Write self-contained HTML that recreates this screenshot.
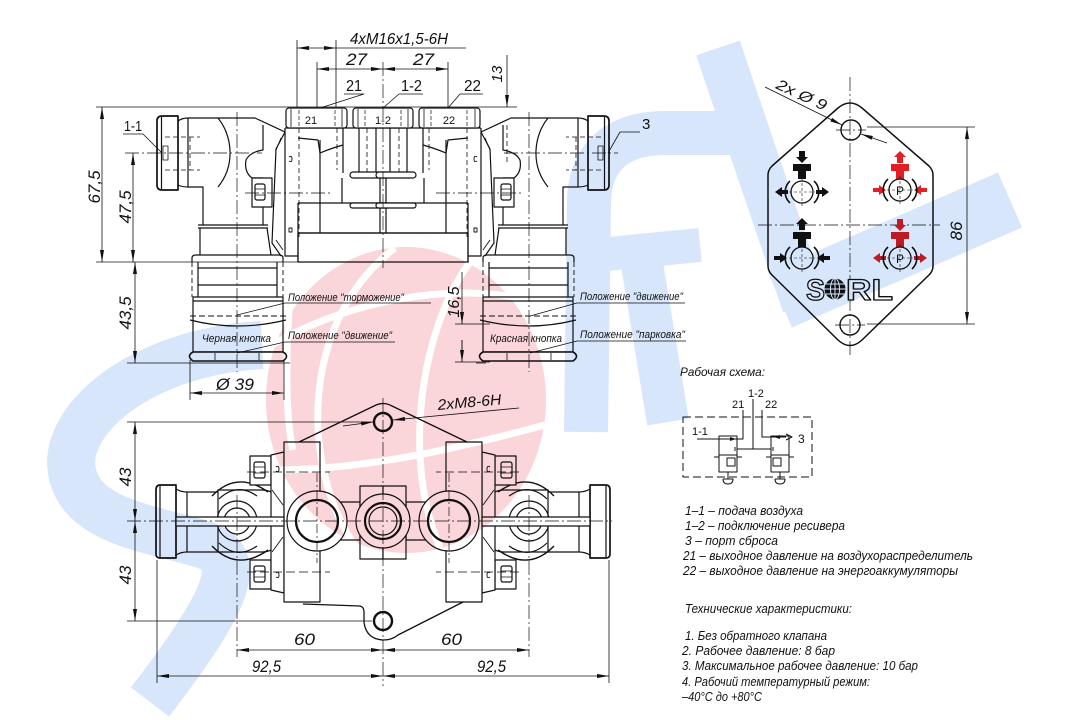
<!DOCTYPE html>
<html><head><meta charset="utf-8"><style>
html,body{margin:0;padding:0;background:#fff;}
svg{display:block}
.t{font-family:"Liberation Sans",sans-serif;font-style:italic;fill:#111;stroke:none}
.u{font-family:"Liberation Sans",sans-serif;fill:#111;stroke:none}
</style></head><body>
<svg width="1080" height="720" viewBox="0 0 1080 720" xmlns="http://www.w3.org/2000/svg">
<defs>
<marker id="a" viewBox="0 0 12 4" refX="12" refY="2" markerWidth="12" markerHeight="4" markerUnits="userSpaceOnUse" orient="auto-start-reverse"><path d="M0 0L12 2L0 4z" fill="#111"/></marker>
</defs>
<rect width="1080" height="720" fill="#fff"/>

<g stroke="#111" fill="none" stroke-width="1.2" stroke-linejoin="round">

<!-- ================= TOP (FRONT) VIEW ================= -->
<g id="TL">
  <!-- flange -->
  <path d="M178 116H162Q157 116 157 121V185Q157 190 162 190H178Z" fill="#fff" stroke-width="1.7"/>
  <line x1="161.5" y1="117" x2="161.5" y2="189"/>
  <rect x="163" y="146" width="5" height="14" stroke-width="0.8"/>
  <!-- tube / elbow -->
  <path d="M178 121Q182 118 188 118H255L285 132"/>
  <path d="M178 185Q182 187 188 187H203V225"/>
  <line x1="188" y1="118" x2="188" y2="187"/>
  <path d="M218 118C232 135 236 165 218 187"/>
  <path d="M263 125V150Q250 152 246 160Q244 172 252 178H263V225"/>
  <path d="M165 137H200M165 170H200M190 137V170" stroke-dasharray="5 3" stroke-width="0.8"/>
  <path d="M198 225H268M198 228H268"/>
  <path d="M200 228V255M267 228L271 255"/>
  <path d="M192 262V258Q192 255 196 255H279Q283 255 283 258V262"/>
  <!-- bolt -->
  <rect x="252" y="178" width="20" height="29" fill="#fff"/>
  <rect x="255" y="184" width="10" height="16" rx="2"/>
  <path d="M255 189H265M255 195H265" stroke-width="0.8"/>
  <!-- bracket -->
  <path d="M285 132L276 149L272 243L281 256"/>
  <path d="M281 138L276 150M276 240L283 250" stroke-width="0.9"/>
  <path d="M289 157q3 -2 3 2t-3 2M289 228h3v4h-3z" stroke-width="0.9"/>
  <!-- block -->
  <path d="M285 128V256H298"/>
  <path d="M285 128H383"/>
  <path d="M298 138L318 140L320 153Q332 148 343 145"/>
  <path d="M299 128V240M337 128V170M367 128V173" stroke-dasharray="5 3" stroke-width="0.8"/>
  <path d="M320 140V233M343 128V173M359 128V173M376 128V173"/>
  <rect x="350" y="172" width="40" height="6" rx="3" fill="#fff"/>
  <path d="M380 178V233"/>
  <path d="M298 203H383M342 178V203"/>
  <rect x="350" y="203" width="40" height="5" rx="2.5" fill="#fff"/>
  <path d="M298 203V233"/>
  <path d="M298 233H383M298 233V262"/>
  <!-- button -->
  <path d="M192 262V297M283 262V297" stroke-dasharray="5 3" stroke-width="0.9"/>
  <path d="M198 262V297M277 262V297"/>
  <path d="M198 268H277M198 285H277"/>
  <rect x="193" y="297" width="90" height="55"/>
  <line x1="193" y1="301" x2="283" y2="301"/>
  <path d="M190 316H286" stroke-dasharray="6 3" stroke-width="0.9"/>
  <path d="M190 320Q237 332 286 320"/>
  <path d="M193 352H283Q290 356 283 361H193Q186 356 193 352Z" stroke-width="1.6" fill="#fff"/>
  <path d="M215 353V360M259 353V360" stroke-width="0.8"/>
</g>
<use href="#TL" transform="matrix(-1 0 0 1 766 0)"/>

<!-- nuts -->
<rect x="286" y="108" width="61" height="20" rx="3" fill="#fff"/>
<rect x="353" y="108" width="60" height="20" rx="3" fill="#fff"/>
<rect x="419" y="108" width="61" height="20" rx="3" fill="#fff"/>
<path d="M291 109V127M342 109V127M358 109V127M408 109V127M424 109V127M475 109V127" stroke-width="0.8"/>
<path d="M299 110V127M335 110V127M365 110V127M401 110V127M431 110V127M467 110V127" stroke-dasharray="4 2" stroke-width="0.7"/>
<text x="311" y="124" class="u" font-size="11" text-anchor="middle">21</text>
<text x="383" y="124" class="u" font-size="11" text-anchor="middle">1-2</text>
<text x="449" y="124" class="u" font-size="11" text-anchor="middle">22</text>

<!-- lower box full -->
<rect x="298" y="233" width="170" height="29"/>

<!-- centre lines top view -->
<g stroke-width="0.7" stroke-dasharray="14 3 2 3">
  <path d="M237 112V372M529 112V372M383 62V268M125 153H262M504 153H618M245 193H330M436 193H521"/>
</g>

<!-- dimension / extension lines top -->
<g stroke-width="0.8">
  <path d="M96 107H517M96 262H469M127 363H290M476 363H486"/>
  <path d="M297 40V107M336 40V107M317 62V107M448 62V107"/>
  <line x1="297" y1="48" x2="336" y2="48" marker-start="url(#a)" marker-end="url(#a)"/>
  <line x1="336" y1="48" x2="466" y2="48"/>
  <line x1="317" y1="69" x2="383" y2="69" marker-start="url(#a)" marker-end="url(#a)"/>
  <line x1="383" y1="69" x2="448" y2="69" marker-start="url(#a)" marker-end="url(#a)"/>
  <path d="M344 94H364L320 108M399 94H423M399 94L383 108M460 94H483M460 94L448 108"/>
  <line x1="507" y1="55" x2="507" y2="107" marker-end="url(#a)"/>
  <path d="M507 125V165" stroke-dasharray="5 3"/>
  <line x1="102" y1="107" x2="102" y2="262" marker-start="url(#a)" marker-end="url(#a)"/>
  <line x1="133" y1="153" x2="133" y2="262" marker-start="url(#a)" marker-end="url(#a)"/>
  <line x1="135" y1="262" x2="135" y2="363" marker-start="url(#a)" marker-end="url(#a)"/>
  <path d="M455 324H490M455 362H490"/>
  <line x1="462" y1="272" x2="462" y2="324" marker-end="url(#a)"/>
  <line x1="462" y1="362" x2="462" y2="340" />
  <line x1="462" y1="340" x2="462" y2="362" marker-end="url(#a)"/>
  <path d="M190 360V400M284 360V400"/>
  <line x1="190" y1="393" x2="284" y2="393" marker-start="url(#a)" marker-end="url(#a)"/>
  <path d="M123 134H143L162 153"/>
  <path d="M640 132H620L608 153"/>
  <!-- position leaders -->
  <path d="M285 303H431M285 303L237 315M285 342H395M285 342L237 353"/>
  <path d="M577 303H685M577 303L530 316M577 341H686M577 341L530 353"/>
</g>

<!-- top view texts -->
<text x="350" y="44" class="t" font-size="16" textLength="98" lengthAdjust="spacingAndGlyphs">4xM16x1,5-6H</text>
<text x="346" y="65" class="t" font-size="17" textLength="21" lengthAdjust="spacingAndGlyphs">27</text>
<text x="413" y="65" class="t" font-size="17" textLength="21" lengthAdjust="spacingAndGlyphs">27</text>
<text x="346" y="91" class="u" font-size="16" textLength="16" lengthAdjust="spacingAndGlyphs">21</text>
<text x="401" y="91" class="u" font-size="16" textLength="21" lengthAdjust="spacingAndGlyphs">1-2</text>
<text x="464" y="91" class="u" font-size="16" textLength="17" lengthAdjust="spacingAndGlyphs">22</text>
<text x="124" y="131" class="u" font-size="15" textLength="18" lengthAdjust="spacingAndGlyphs">1-1</text>
<text x="642" y="129" class="u" font-size="15">3</text>
<text transform="translate(502 74) rotate(-90)" class="t" font-size="15" text-anchor="middle">13</text>
<text transform="translate(100 187) rotate(-90)" class="t" font-size="17" text-anchor="middle">67,5</text>
<text transform="translate(131 207) rotate(-90)" class="t" font-size="17" text-anchor="middle">47,5</text>
<text transform="translate(131 313) rotate(-90)" class="t" font-size="17" text-anchor="middle">43,5</text>
<text transform="translate(459 302) rotate(-90)" class="t" font-size="16" text-anchor="middle">16,5</text>
<text x="216" y="390" class="t" font-size="17" textLength="38" lengthAdjust="spacingAndGlyphs">Ø 39</text>
<text x="288" y="301" class="t" font-size="11" textLength="116" lengthAdjust="spacingAndGlyphs">Положение "торможение"</text>
<text x="288" y="339" class="t" font-size="11" textLength="104" lengthAdjust="spacingAndGlyphs">Положение "движение"</text>
<text x="202" y="342" class="t" font-size="11" textLength="69" lengthAdjust="spacingAndGlyphs">Черная кнопка</text>
<text x="580" y="300" class="t" font-size="11" textLength="103" lengthAdjust="spacingAndGlyphs">Положение "движение"</text>
<text x="580" y="338" class="t" font-size="11" textLength="105" lengthAdjust="spacingAndGlyphs">Положение "парковка"</text>
<text x="490" y="342" class="t" font-size="11" textLength="72" lengthAdjust="spacingAndGlyphs">Красная кнопка</text>

<!-- ================= BOTTOM (PLAN) VIEW ================= -->
<path d="M299 442L374 406Q383 401 392 406L467 442" stroke-width="1.3"/>
<path d="M303 604L360 606Q364 607 364 612V622Q366 639 383 640Q392 640 398 635L467 600" stroke-width="1.3"/>

<g id="BL">
  <path d="M176 485H160Q156 485 156 490V554Q156 558 160 558H176Z" fill="#fff" stroke-width="1.7"/>
  <line x1="160" y1="486" x2="160" y2="557"/>
  <path d="M176 489Q181 492 187 492H218M176 555Q181 552 187 552H218"/>
  <line x1="187" y1="492" x2="187" y2="552"/>
  <path d="M218 490H262Q277 490 277 505V537Q277 552 262 552H218Z" fill="#fff"/>
  <path d="M212 496Q237 470 268 492" stroke-width="1.4"/>
  <path d="M219 499Q237 482 257 496"/>
  <path d="M212 546Q237 572 268 550" stroke-width="1.4"/>
  <path d="M219 543Q237 560 257 546"/>
  <circle cx="237" cy="521" r="20"/>
  <circle cx="237" cy="521" r="13"/>
  <rect x="250" y="456" width="21" height="29" fill="#fff"/>
  <rect x="254" y="462" width="11" height="16" rx="2"/>
  <path d="M254 467H265M254 473H265" stroke-width="0.8"/>
  <rect x="250" y="560" width="21" height="29" fill="#fff"/>
  <rect x="254" y="566" width="11" height="16" rx="2"/>
  <path d="M254 571H265M254 577H265" stroke-width="0.8"/>
  <path d="M271 455L284 452V593L271 590Z" fill="#fff"/>
  <path d="M272 490L283 505M272 552L283 537" stroke-width="0.9"/>
  <path d="M276 467q3 -2 3 2t-3 2M276 573q3 -2 3 2t-3 2" stroke-width="0.9"/>
  <rect x="284" y="442" width="36" height="160" fill="#fff"/>
  <path d="M247 472H330M247 572H330" stroke-dasharray="9 4" stroke-width="0.8"/>
  <rect x="340" y="502" width="20" height="38" fill="#fff"/>
  <rect x="360" y="486" width="23" height="73" fill="#fff"/>
  <circle cx="317" cy="521" r="30" fill="#fff"/>
  <circle cx="317" cy="521" r="21" stroke-width="2.3"/>
  <rect x="176" y="517" width="108" height="9" fill="#fff"/>
  <path d="M317 473V563" stroke-dasharray="9 3 2 3" stroke-width="0.7"/>
</g>
<use href="#BL" transform="matrix(-1 0 0 1 766 0)"/>

<circle cx="383" cy="521" r="27" fill="#fff"/>
<circle cx="383" cy="521" r="18" stroke-width="2.2"/>
<circle cx="383" cy="521" r="14"/>
<circle cx="383" cy="422" r="9" fill="#fff" stroke-width="2.4"/>
<circle cx="383" cy="621" r="9" fill="#fff" stroke-width="2.4"/>

<g stroke-width="0.7" stroke-dasharray="14 3 2 3">
  <path d="M127 521H612M383 398V686M237 495V657M529 495V657"/>
</g>
<g stroke-width="0.8">
  <path d="M127 422H372M127 621H372M157 560V683M609 560V683"/>
  <line x1="135" y1="422" x2="135" y2="521" marker-start="url(#a)" marker-end="url(#a)"/>
  <line x1="135" y1="521" x2="135" y2="621" marker-start="url(#a)" marker-end="url(#a)"/>
  <line x1="237" y1="650" x2="383" y2="650" marker-start="url(#a)" marker-end="url(#a)"/>
  <line x1="383" y1="650" x2="529" y2="650" marker-start="url(#a)" marker-end="url(#a)"/>
  <line x1="157" y1="676" x2="383" y2="676" marker-start="url(#a)" marker-end="url(#a)"/>
  <line x1="383" y1="676" x2="609" y2="676" marker-start="url(#a)" marker-end="url(#a)"/>
  <line x1="519" y1="408" x2="393" y2="420" marker-end="url(#a)"/>
  <line x1="343" y1="426" x2="373" y2="422" marker-end="url(#a)"/>
</g>
<text transform="translate(131 477) rotate(-90)" class="t" font-size="17" text-anchor="middle">43</text>
<text transform="translate(131 575) rotate(-90)" class="t" font-size="17" text-anchor="middle">43</text>
<text x="294" y="645" class="t" font-size="17" textLength="21" lengthAdjust="spacingAndGlyphs">60</text>
<text x="441" y="645" class="t" font-size="17" textLength="21" lengthAdjust="spacingAndGlyphs">60</text>
<text x="252" y="672" class="t" font-size="17" textLength="29" lengthAdjust="spacingAndGlyphs">92,5</text>
<text x="477" y="672" class="t" font-size="17" textLength="29" lengthAdjust="spacingAndGlyphs">92,5</text>
<text transform="translate(438 410) rotate(-5)" class="t" font-size="15" textLength="64" lengthAdjust="spacingAndGlyphs">2xM8-6H</text>

<!-- ================= HEX PLATE ================= -->
<path d="M768 175Q768 170 772 166L838 108Q850 98 862 108L929 166Q933 170 933 175V266Q933 271 929 275L862 340Q850 351 838 340L772 275Q768 271 768 266Z" stroke-width="1.5"/>
<circle cx="851" cy="130" r="10" stroke-width="1.4"/>
<circle cx="850" cy="325" r="10" stroke-width="1.4"/>
<g stroke-width="0.7" stroke-dasharray="14 3 2 3">
  <path d="M850 77V357M758 225H940M836 130H866M835 325H865"/>
</g>
<g stroke-width="0.8">
  <path d="M867 127H975M867 324H975"/>
  <line x1="967" y1="127" x2="967" y2="324" marker-start="url(#a)" marker-end="url(#a)"/>
  <line x1="765" y1="87" x2="842" y2="125" marker-end="url(#a)"/>
  <line x1="887" y1="143" x2="861" y2="134" marker-end="url(#a)"/>
</g>
<text transform="translate(962 231) rotate(-90)" class="t" font-size="17" text-anchor="middle">86</text>
<text transform="translate(775 88) rotate(25)" class="t" font-size="15" textLength="54" lengthAdjust="spacingAndGlyphs">2x Ø 9</text>

<!-- symbols -->
<g fill="#111" stroke="none">
  <path d="M799 151h6v6h3l-6 6l-6-6h3z"/>
  <path d="M793 164h18v7h-5v8h-8v-8h-5z"/>
  <path d="M775 192l7-5v3h6v4h-6v3z"/>
  <path d="M829 192l-7-5v3h-6v4h6v3z"/>
  <path d="M799 230v-6h-3l6-6l6 6h-3v6z"/>
  <path d="M793 232h18v7h-5v8h-8v-8h-5z"/>
  <path d="M787 258l-7-5v3h-6v4h6v3z"/>
  <path d="M817 258l7-5v3h6v4h-6v3z"/>
</g>
<g fill="#e31e24" stroke="none">
  <path d="M897 163v-6h-3l6-6l6 6h-3v6z"/>
  <path d="M891 164h18v7h-5v8h-8v-8h-5z"/>
  <path d="M886 190l-7-5v3h-6v4h6v3z"/>
  <path d="M914 190l7-5v3h6v4h-6v3z"/>
  <path d="M897 219h6v6h3l-6 6l-6-6h3z"/>
  <path d="M891 232h18v7h-5v8h-8v-8h-5z"/>
  <path d="M873 258l7-5v3h6v4h-6v3z"/>
  <path d="M927 258l-7-5v3h-6v4h6v3z"/>
</g>
<g stroke-width="1.3">
  <circle cx="802" cy="192" r="11"/>
  <path d="M790 181a15 15 0 0 0 0 22M814 181a15 15 0 0 1 0 22" stroke-width="1.6"/>
  <circle cx="900" cy="190" r="11"/>
  <path d="M888 179a15 15 0 0 0 0 22M912 179a15 15 0 0 1 0 22" stroke-width="1.6"/>
  <circle cx="802" cy="258" r="11"/>
  <path d="M790 247a15 15 0 0 0 0 22M814 247a15 15 0 0 1 0 22" stroke-width="1.6"/>
  <circle cx="900" cy="258" r="11"/>
  <path d="M888 247a15 15 0 0 0 0 22M912 247a15 15 0 0 1 0 22" stroke-width="1.6"/>
</g>
<path d="M789 192H815M802 178V206M789 258H815M802 244V272M887 190H913M900 176V204M887 258H913M900 244V272" stroke-width="0.6" stroke-dasharray="3 2"/>
<text x="900" y="195" class="u" font-size="12" text-anchor="middle">P</text>
<text x="900" y="263" class="u" font-size="12" text-anchor="middle">P</text>

<!-- SORL logo -->
<text x="806" y="300" font-family="Liberation Sans, sans-serif" font-weight="bold" font-size="30" fill="#fff" stroke="#111" stroke-width="1.3" textLength="19" lengthAdjust="spacingAndGlyphs">S</text>
<circle cx="835" cy="289" r="10.5" fill="#111" stroke="none"/>
<path d="M835 278.5V299.5M824.5 289H845.5M826 284H844M826 294H844" stroke="#fff" stroke-width="1"/>
<ellipse cx="835" cy="289" rx="4.5" ry="10.5" stroke="#fff" stroke-width="1"/>
<text x="846" y="300" font-family="Liberation Sans, sans-serif" font-weight="bold" font-size="30" fill="#fff" stroke="#111" stroke-width="1.3" textLength="47" lengthAdjust="spacingAndGlyphs">RL</text>

<!-- ================= SCHEME ================= -->
<text x="680" y="376" class="t" font-size="12" textLength="85" lengthAdjust="spacingAndGlyphs">Рабочая схема:</text>
<rect x="683" y="417" width="129" height="60" stroke-dasharray="8 4" stroke-width="1"/>
<text x="748" y="397" class="u" font-size="11">1-2</text>
<text x="732" y="408" class="u" font-size="11">21</text>
<text x="765" y="408" class="u" font-size="11">22</text>
<text x="692" y="435" class="u" font-size="11">1-1</text>
<text x="798" y="443" class="u" font-size="12">3</text>
<g stroke-width="1">
  <path d="M753 399V449M737 449H771"/>
  <path d="M743 410V439H733M697 439H731"/>
  <path d="M762 410V437H786"/>
  <path d="M786 434L792 437L786 440"/>
  <rect x="719" y="436" width="18" height="36"/>
  <rect x="771" y="436" width="18" height="36"/>
  <path d="M719 455H737M771 455H789M714 457H719M737 457H742M766 457H771M789 457H794"/>
  <rect x="727" y="458" width="8" height="8"/>
  <rect x="773" y="458" width="8" height="8"/>
  <path d="M728 472V479M723 479H733Q733 484 728 484Q723 484 723 479M780 472V479M775 479H785Q785 484 780 484Q775 484 775 479"/>
  <path d="M735 447V451M773 447V451"/>
</g>
<path d="M730 437L736 439L730 441z M780 435L774 437L780 439z" fill="#111" stroke="none"/>

<!-- legend -->
<text x="685" y="515" class="t" font-size="13" textLength="118" lengthAdjust="spacingAndGlyphs">1–1 – подача воздуха</text>
<text x="685" y="530" class="t" font-size="13" textLength="160" lengthAdjust="spacingAndGlyphs">1–2 – подключение ресивера</text>
<text x="685" y="545" class="t" font-size="13" textLength="93" lengthAdjust="spacingAndGlyphs">3 – порт сброса</text>
<text x="683" y="560" class="t" font-size="13" textLength="290" lengthAdjust="spacingAndGlyphs">21 – выходное давление на воздухораспределитель</text>
<text x="683" y="575" class="t" font-size="13" textLength="275" lengthAdjust="spacingAndGlyphs">22 – выходное давление на энергоаккумуляторы</text>
<text x="685" y="613" class="t" font-size="13" textLength="167" lengthAdjust="spacingAndGlyphs">Технические характеристики:</text>
<text x="685" y="640" class="t" font-size="13" textLength="142" lengthAdjust="spacingAndGlyphs">1. Без обратного клапана</text>
<text x="682" y="655" class="t" font-size="13" textLength="153" lengthAdjust="spacingAndGlyphs">2. Рабочее давление: 8 бар</text>
<text x="682" y="670" class="t" font-size="13" textLength="236" lengthAdjust="spacingAndGlyphs">3. Максимальное рабочее давление: 10 бар</text>
<text x="682" y="686" class="t" font-size="13" textLength="188" lengthAdjust="spacingAndGlyphs">4. Рабочий температурный режим:</text>
<text x="682" y="701" class="t" font-size="13" textLength="80" lengthAdjust="spacingAndGlyphs">–40°C до +80°C</text>
</g>

<!-- ================= WATERMARK (multiply overlay) ================= -->
<g style="mix-blend-mode:multiply">
  <g fill="none" stroke="#d7e6fb" stroke-linecap="butt">
    <path d="M262 345C140 352 62 420 72 472C82 522 150 528 205 545C245 560 228 600 150 702" stroke-width="48"/>
    <path d="M586 432L589 200C591 150 625 133 665 133L735 133" stroke-width="44"/>
    <path d="M598 255L700 245" stroke-width="34"/>
    <path d="M640 252L668 422" stroke-width="42"/>
    <path d="M718 48L805 305" stroke-width="46"/>
    <path d="M780 300L1010 200" stroke-width="60"/>
  </g>
  <ellipse cx="406" cy="400" rx="140" ry="153" fill="#fad5d9"/>
  <g fill="none" stroke="#fff" stroke-width="7">
    <path d="M395 248C300 320 298 470 360 553"/>
    <path d="M470 262C420 330 402 460 440 548"/>
    <path d="M290 300C285 360 286 420 293 450"/>
    <path d="M272 345C350 300 450 282 530 300"/>
    <path d="M275 470C370 470 470 445 545 425"/>
  </g>
</g>
</svg>
</body></html>
